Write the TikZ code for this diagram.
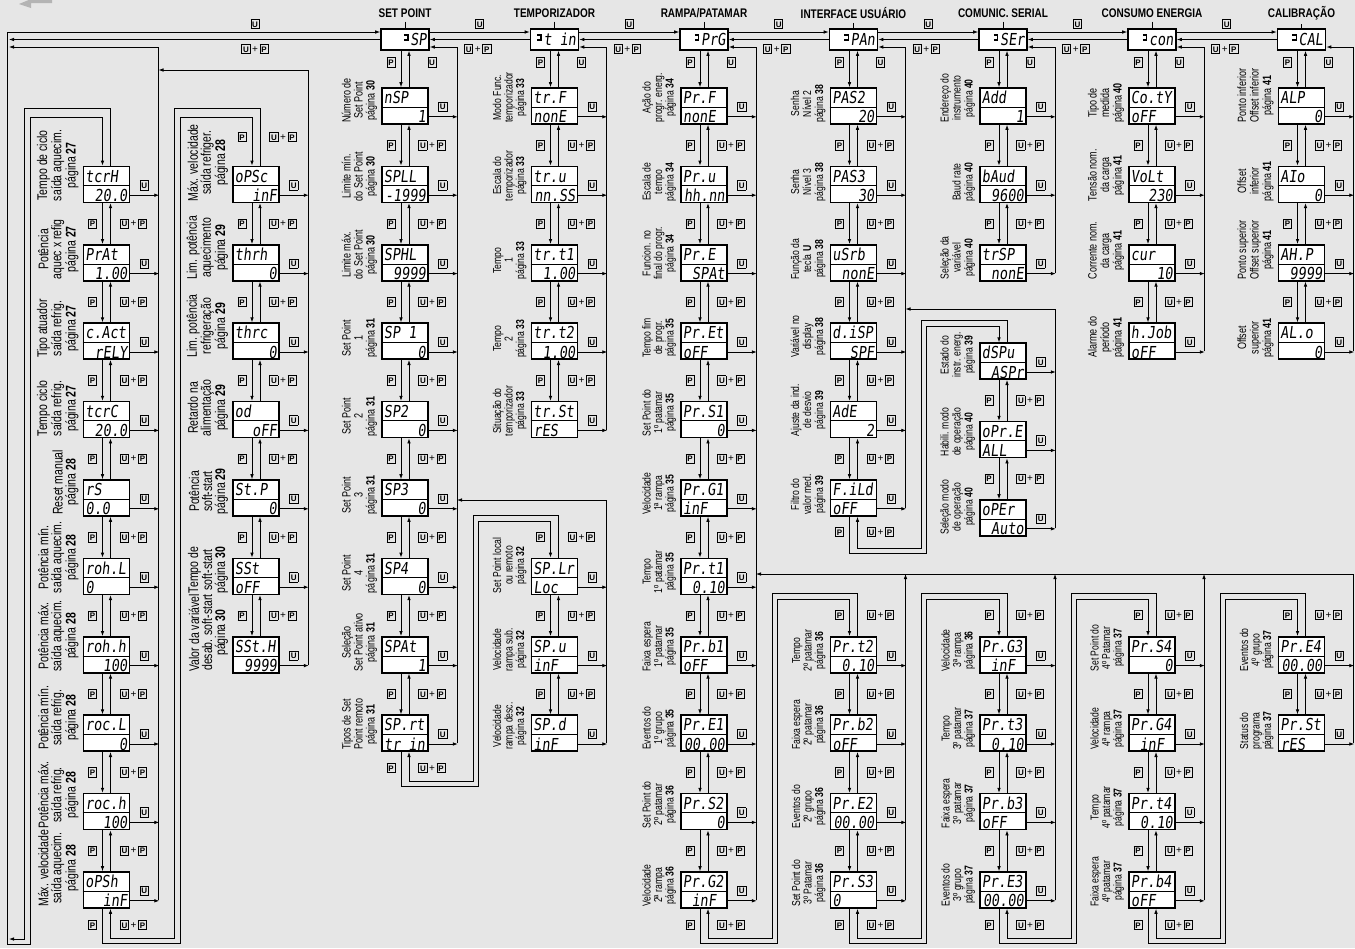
\documentclass[tikz,border=0pt]{standalone}
\usepackage{fontspec}
\setmainfont{Liberation Sans}
\newfontfamily\condf[FakeStretch=0.75]{Liberation Sans}
\newfontfamily\titlef[FakeStretch=0.8]{Liberation Sans}
\newfontfamily\dispf[FakeStretch=0.82,FakeSlant=0.12]{DejaVu Sans Mono}
\usetikzlibrary{arrows.meta,calc}
\definecolor{bgc}{HTML}{E6E6E6}
\definecolor{argray}{HTML}{B4B4B4}

\newcommand\kb[1]{{\setlength\fboxsep{0pt}\setlength\fboxrule{0.8pt}\fbox{\makebox[7.4pt]{\rule[-1.2pt]{0pt}{8.6pt}\fontsize{8}{8}\selectfont\bfseries #1}}}}
\newcommand\kU{\kb{U}}
\newcommand\kP{\kb{P}}
\newcommand\kUP{\kb{U}\hspace{1.6pt}{\fontsize{10}{10}\selectfont +}\hspace{1.6pt}\kb{P}}
\newcommand\hq{\makebox[6.4pt][l]{\rule[5pt]{4.6pt}{1.3pt}\hspace{-1.3pt}\rule[5pt]{1.3pt}{6.3pt}\hspace{-4.6pt}\rule[10pt]{4.6pt}{1.3pt}}}
\def\dsz{11.5}
\def\dld{11.5}

\tikzset{
  ln/.style={line width=0.8pt},
  conn/.style={line width=0.8pt,-{Latex[length=5pt,width=3.6pt]}},
  dispbox/.style={draw,line width=1.6pt,fill=white,minimum width=46pt,minimum height=36pt,inner sep=0pt},
  headbox/.style={draw,line width=1.6pt,fill=white,minimum width=48pt,minimum height=21pt,inner sep=0pt},
  divline/.style={line width=0.9pt},
  disptxt/.style={inner sep=0pt,text height=12pt,text depth=0pt,font=\dispf\fontsize{16.5}{16.5}\selectfont},
  alignL/.style={anchor=west,xshift=-21pt},
  alignR/.style={anchor=east,xshift=21pt},
  alignC/.style={},
  desc/.style={rotate=90,anchor=south west,align=center,inner sep=0pt,font=\condf\fontsize{\dsz}{\dld}\selectfont},
  keylab/.style={inner sep=0pt,font=\fontsize{10}{10}\selectfont},
  titlelab/.style={inner sep=0pt,font=\titlef\bfseries\fontsize{12.5}{12.5}\selectfont},
}

% name, x, row, top text, bottom text, align, description
\newcommand\mkdisp[7]{%
  \pgfmathsetmacro\yc{106+78.4*(#3)}%
  \node[dispbox] (#1) at (#2,\yc) {};
  \draw[divline] ($(#1.north west)+(0,20)$) -- ($(#1.north east)+(0,20)$);
  \node[disptxt,anchor=west] (#1-t) at ($(#1.north west)+(2.5,10.5)$) {#4};
  \node[disptxt,align#6] (#1-b) at ($(#1.south)+(0,-8)$) {#5};
  \node[desc] (#1-d) at ($(#1.south west)+(-4,-2)$) {#7};
  \draw[conn] ($(#1.south east)+(0,-8)$) -- ++(29,0);
  \node[keylab] (#1-u) at ($(#1.south east)+(14,-18)$) {\kU};
}
% upper, lower, right label, fraction
\newcommand\mkvl[4]{%
  \draw[conn] ($(#1.south)+(-4,0)$) -- ($(#2.north)+(-4,0)$);
  \draw[conn] ($(#2.north)+(4,0)$) -- ($(#1.south)+(4,0)$);
  \coordinate (mid) at ($(#1.south)!#4!(#2.north)$);
  \node[keylab] at ([xshift=-14pt]mid) {\kP};
  \node[keylab] at ([xshift=27pt]mid) {#3};
}
% name, x, display, title
\newcommand\mkhead[4]{%
  \node[headbox] (#1) at (#2,39.5) {};
  \node[disptxt,anchor=east] (#1-t) at ($(#1.east)+(-3,0)$) {#3};
  \node[titlelab] (#1-n) at (#2,13) {#4};
  \draw[ln] ($(#1-n.south)+(0,4)$) -- (#1.north);
}
\newcommand\mkhl[2]{%
  \draw[conn] ($(#1.east)+(0,-7.5)$) -- ($(#2.west)+(0,-7.5)$);
  \draw[conn] (#2.west) -- (#1.east);
  \coordinate (mh) at ($(#1.east)!0.5!(#2.west)$);
  \node[keylab] at ([yshift=15.5pt]mh) {\kU};
  \node[keylab] at ($(#1.east)+(48,9.5)$) {\kUP};
}

\begin{document}
\begin{tikzpicture}[x=1pt,y=-1pt]
\useasboundingbox (0,0) rectangle (1355,948);
\fill[bgc] (0,0) rectangle (1355,948);
\fill[argray] (19,4) -- (31,-1) -- (31,0) -- (52,0) -- (52,3) -- (31,3) -- (31,8) -- cycle;

% headers
\mkhead{hSP}{405}{\hq SP}{SET POINT}
\mkhead{hT}{554.5}{\hq t in}{TEMPORIZADOR}
\mkhead{hR}{704}{\hq PrG}{RAMPA/PATAMAR}
\mkhead{hI}{853.5}{\hq PAn}{INTERFACE USUÁRIO}
\mkhead{hS}{1003}{\hq SEr}{COMUNIC. SERIAL}
\mkhead{hC}{1152}{\hq con}{CONSUMO ENERGIA}
\mkhead{hL}{1301.5}{\hq CAL}{CALIBRAÇÃO}

\mkhl{hSP}{hT}
\mkhl{hT}{hR}
\mkhl{hR}{hI}
\mkhl{hI}{hS}
\mkhl{hS}{hC}
\mkhl{hC}{hL}

% left bus and top-left lines
\draw[ln] (7,32) -- (7,944);
\draw[conn] (7,32) -- ($(hSP.west)+(0,-7.5)$);
\draw[conn] (hSP.west) -- (9,39.5);
\node[keylab] at (255,24) {\kU};
\node[keylab] at (255,49) {\kUP};

\def\dsz{14}\def\dld{13}
% column A
\mkdisp{tcrH}{106.5}{1}{tcrH}{20.0}{R}{Tempo de ciclo\\saída aquecim.\\página \textbf{27}}
\mkdisp{PrAt}{106.5}{2}{PrAt}{1.00}{R}{Potência\\aquec x refig\\página \textbf{27}}
\mkdisp{cAct}{106.5}{3}{c.Act}{rELY}{R}{Tipo atuador\\saída refrig.\\página \textbf{27}}
\mkdisp{tcrC}{106.5}{4}{tcrC}{20.0}{R}{Tempo ciclo\\saída refrig.\\página \textbf{27}}
\mkdisp{rS}{106.5}{5}{rS}{0.0}{L}{Reset manual\\página \textbf{28}}
\mkdisp{rohL}{106.5}{6}{roh.L}{0}{L}{Potência mín.\\saída aquecim.\\página \textbf{28}}
\mkdisp{rohh}{106.5}{7}{roh.h}{100}{R}{Potência máx.\\saída aquecim.\\página \textbf{28}}
\mkdisp{rocL}{106.5}{8}{roc.L}{0}{R}{Potência mín.\\saída refrig.\\página \textbf{28}}
\mkdisp{roch}{106.5}{9}{roc.h}{100}{R}{Potência máx.\\saída refrig.\\página \textbf{28}}
\mkdisp{oPSh}{106.5}{10}{oPSh}{inF}{R}{Máx. velocidade\\saída aquecim.\\página \textbf{28}}
\foreach \a/\b in {tcrH/PrAt,PrAt/cAct,cAct/tcrC,tcrC/rS,rS/rohL,rohL/rohh,rohh/rocL,rocL/roch,roch/oPSh}{\mkvl{\a}{\b}{\kUP}{0.5}}
\draw[conn] (158.5,900) |- (9,47);

% column B
\mkdisp{oPSc}{256}{1}{oPSc}{inF}{R}{Máx. velocidade\\saída refriger.\\página \textbf{28}}
\mkdisp{thrh}{256}{2}{thrh}{0}{R}{Lim. potência\\aquecimento\\página \textbf{29}}
\mkdisp{thrc}{256}{3}{thrc}{0}{R}{Lim. potência\\refrigeração\\página \textbf{29}}
\mkdisp{od}{256}{4}{od}{oFF}{R}{Retardo na\\alimentação\\página \textbf{29}}
\mkdisp{StP}{256}{5}{St.P}{0}{R}{Potência\\soft-start\\página \textbf{29}}
\mkdisp{SSt}{256}{6}{SSt}{oFF}{L}{Tempo de\\soft-start\\página \textbf{30}}
\mkdisp{SStH}{256}{7}{SSt.H}{9999}{R}{Valor da variável\\desab. soft-start\\página \textbf{30}}
\foreach \a/\b in {oPSc/thrh,thrh/thrc,thrc/od,od/StP,StP/SSt,SSt/SStH}{\mkvl{\a}{\b}{\kUP}{0.5}}
\draw[conn] (308,664.8) |- (158.5,70);

% column A entry and A->B loop
\draw[conn] (7,944) -- (30,944) -- (30,117) -- (102.5,117) -- ($(tcrH.north)+(-4,0)$);
\draw[conn] ($(tcrH.north)+(4,0)$) -- (110.5,108) -- (24,108) -- (24,939) -- (9,939);
\draw[conn] ($(oPSh.south)+(-4,0)$) -- (102.5,943) -- (180,943) -- (180,117) -- (252,117) -- ($(oPSc.north)+(-4,0)$);
\draw[conn] ($(oPSc.north)+(4,0)$) -- (260,108) -- (174,108) -- (174,938) -- (110.5,938) -- ($(oPSh.south)+(4,0)$);
\node[keylab] at (92.5,925) {\kP};
\node[keylab] at (133.5,925) {\kUP};
\node[keylab] at (242,137) {\kP};
\node[keylab] at (283,137) {\kUP};

% SET POINT
\def\dsz{12}\def\dld{12}
\mkdisp{nSP}{405}{0}{nSP}{1}{R}{Número de\\Set Point\\página \textbf{30}}
\mkdisp{SPLL}{405}{1}{SPLL}{-1999}{R}{Limite mín.\\do Set Point\\página \textbf{30}}
\mkdisp{SPHL}{405}{2}{SPHL}{9999}{R}{Limite máx.\\do Set Point\\página \textbf{30}}
\mkdisp{SPa}{405}{3}{SP 1}{0}{R}{Set Point\\1\\página \textbf{31}}
\mkdisp{SPb}{405}{4}{SP2}{0}{R}{Set Point\\2\\página \textbf{31}}
\mkdisp{SPc}{405}{5}{SP3}{0}{R}{Set Point\\3\\página \textbf{31}}
\mkdisp{SPd4}{405}{6}{SP4}{0}{R}{Set Point\\4\\página \textbf{31}}
\mkdisp{SPAt}{405}{7}{SPAt}{1}{R}{Seleção\\Set Point ativo\\página \textbf{31}}
\mkdisp{SPrt}{405}{8}{SP.rt}{tr in}{L}{Tipos de Set\\Point remoto\\página \textbf{31}}
\mkvl{hSP}{nSP}{\kU}{0.32}
\foreach \a/\b in {nSP/SPLL,SPLL/SPHL,SPHL/SPa,SPa/SPb,SPb/SPc,SPc/SPd4,SPd4/SPAt,SPAt/SPrt}{\mkvl{\a}{\b}{\kUP}{0.5}}
\draw[conn] (457,743.2) |- ($(hSP.east)+(0,7.5)$);
\def\dsz{11.5}\def\dld{11.5}
\mkdisp{SPLr}{554.5}{6}{SP.Lr}{Loc}{L}{Set Point local\\ou remoto\\página \textbf{32}}
\mkdisp{SPu}{554.5}{7}{SP.u}{inF}{L}{Velocidade\\rampa sub.\\página \textbf{32}}
\mkdisp{SPdd}{554.5}{8}{SP.d}{inF}{L}{Velocidade\\rampa desc.\\página \textbf{32}}
\foreach \a/\b in {SPLr/SPu,SPu/SPdd}{\mkvl{\a}{\b}{\kUP}{0.5}}
\draw[conn] (606.5,743.2) |- (457,500);
\draw[conn] ($(SPrt.south)+(-4,0)$) -- (401,786) -- (478,786) -- (478,521) -- (550.5,521) -- ($(SPLr.north)+(-4,0)$);
\draw[conn] ($(SPLr.north)+(4,0)$) -- (558.5,515) -- (473,515) -- (473,781) -- (409,781) -- ($(SPrt.south)+(4,0)$);
\node[keylab] at (391,768) {\kP};
\node[keylab] at (432,768) {\kUP};
\node[keylab] at (540.5,537) {\kP};
\node[keylab] at (581.5,537) {\kUP};

% TEMPORIZADOR
\mkdisp{trF}{554.5}{0}{tr.F}{nonE}{L}{Modo Func.\\temporizador\\página \textbf{33}}
\mkdisp{tru}{554.5}{1}{tr.u}{nn.SS}{R}{Escala do\\temporizador\\página \textbf{33}}
\mkdisp{trtA}{554.5}{2}{tr.t1}{1.00}{R}{Tempo\\1\\página \textbf{33}}
\mkdisp{trtB}{554.5}{3}{tr.t2}{1.00}{R}{Tempo\\2\\página \textbf{33}}
\mkdisp{trSt}{554.5}{4}{tr.St}{rES}{L}{Situação do\\temporizador\\página \textbf{33}}
\mkvl{hT}{trF}{\kU}{0.32}
\foreach \a/\b in {trF/tru,tru/trtA,trtA/trtB,trtB/trSt}{\mkvl{\a}{\b}{\kUP}{0.5}}
\draw[conn] (606.5,429.6) |- ($(hT.east)+(0,7.5)$);

% RAMPA/PATAMAR
\mkdisp{PrF}{704}{0}{Pr.F}{nonE}{L}{Ação do\\progr. energ.\\página \textbf{34}}
\mkdisp{Pru}{704}{1}{Pr.u}{hh.nn}{R}{Escala de\\tempo\\página \textbf{34}}
\mkdisp{PrE}{704}{2}{Pr.E}{SPAt}{R}{Funcion. no\\final do progr.\\página \textbf{34}}
\mkdisp{PrEt}{704}{3}{Pr.Et}{oFF}{L}{Tempo fim\\de progr.\\página \textbf{35}}
\mkdisp{PrSa}{704}{4}{Pr.S1}{0}{R}{Set Point do\\1º patamar\\página \textbf{35}}
\mkdisp{PrGa}{704}{5}{Pr.G1}{inF}{L}{Velocidade\\1ª rampa\\página \textbf{35}}
\mkdisp{Prta}{704}{6}{Pr.t1}{0.10}{R}{Tempo\\1º patamar\\página \textbf{35}}
\mkdisp{Prba}{704}{7}{Pr.b1}{oFF}{L}{Faixa espera\\1º patamar\\página \textbf{35}}
\mkdisp{PrEa}{704}{8}{Pr.E1}{00.00}{R}{Eventos do\\1º grupo\\página \textbf{35}}
\mkdisp{PrSb}{704}{9}{Pr.S2}{0}{R}{Set Point do\\2º patamar\\página \textbf{36}}
\mkdisp{PrGb}{704}{10}{Pr.G2}{inF}{C}{Velocidade\\2ª rampa\\página \textbf{36}}
\mkvl{hR}{PrF}{\kU}{0.32}
\foreach \a/\b in {PrF/Pru,Pru/PrE,PrE/PrEt,PrEt/PrSa,PrSa/PrGa,PrGa/Prta,Prta/Prba,Prba/PrEa,PrEa/PrSb,PrSb/PrGb}{\mkvl{\a}{\b}{\kUP}{0.5}}
\draw[conn] (756,900) |- ($(hR.east)+(0,7.5)$);

\mkdisp{Prtb}{853.5}{7}{Pr.t2}{0.10}{R}{Tempo\\2º patamar\\página \textbf{36}}
\mkdisp{Prbb}{853.5}{8}{Pr.b2}{oFF}{L}{Faixa espera\\2º patamar\\página \textbf{36}}
\mkdisp{PrEb}{853.5}{9}{Pr.E2}{00.00}{R}{Eventos do\\2º grupo\\página \textbf{36}}
\mkdisp{PrSc}{853.5}{10}{Pr.S3}{0}{L}{Set Point do\\3º Patamar\\página \textbf{36}}
\mkdisp{PrGc}{1003}{7}{Pr.G3}{inF}{C}{Velocidade\\3ª rampa\\página \textbf{36}}
\mkdisp{Prtc}{1003}{8}{Pr.t3}{0.10}{R}{Tempo\\3º patamar\\página \textbf{37}}
\mkdisp{Prbc}{1003}{9}{Pr.b3}{oFF}{L}{Faixa espera\\3º patamar\\página \textbf{37}}
\mkdisp{PrEc}{1003}{10}{Pr.E3}{00.00}{R}{Eventos do\\3º grupo\\página \textbf{37}}
\mkdisp{PrSd}{1152}{7}{Pr.S4}{0}{R}{Set Point do\\4º Patamar\\página \textbf{37}}
\mkdisp{PrGd}{1152}{8}{Pr.G4}{inF}{C}{Velocidade\\4ª rampa\\página \textbf{37}}
\mkdisp{Prtd}{1152}{9}{Pr.t4}{0.10}{R}{Tempo\\4º patamar\\página \textbf{37}}
\mkdisp{Prbd}{1152}{10}{Pr.b4}{oFF}{L}{Faixa espera\\4º patamar\\página \textbf{37}}
\mkdisp{PrEd}{1301.5}{7}{Pr.E4}{00.00}{R}{Eventos do\\4º grupo\\página \textbf{37}}
\mkdisp{PrSt}{1301.5}{8}{Pr.St}{rES}{L}{Status do\\programa\\página \textbf{37}}
\foreach \a/\b in {Prtb/Prbb,Prbb/PrEb,PrEb/PrSc,PrGc/Prtc,Prtc/Prbc,Prbc/PrEc,PrSd/PrGd,PrGd/Prtd,Prtd/Prbd,PrEd/PrSt}{\mkvl{\a}{\b}{\kUP}{0.5}}
\draw[conn] (905.5,900) -- (905.5,574);
\draw[conn] (1055,900) -- (1055,574);
\draw[conn] (1204,900) -- (1204,574);
\draw[conn] (1353.5,743.2) |- (756,574);

% program loops
\draw[conn] ($(PrGb.south)+(-4,0)$) -- (700,943) -- (777,943) -- (777,599) -- (849.5,599) -- ($(Prtb.north)+(-4,0)$);
\draw[conn] ($(Prtb.north)+(4,0)$) -- (857.5,593) -- (772,593) -- (772,938) -- (708,938) -- ($(PrGb.south)+(4,0)$);
\draw[conn] ($(PrSc.south)+(-4,0)$) -- (849.5,943) -- (926.5,943) -- (926.5,599) -- (999,599) -- ($(PrGc.north)+(-4,0)$);
\draw[conn] ($(PrGc.north)+(4,0)$) -- (1007,593) -- (921.5,593) -- (921.5,938) -- (857.5,938) -- ($(PrSc.south)+(4,0)$);
\draw[conn] ($(PrEc.south)+(-4,0)$) -- (999,943) -- (1076,943) -- (1076,599) -- (1148,599) -- ($(PrSd.north)+(-4,0)$);
\draw[conn] ($(PrSd.north)+(4,0)$) -- (1156,593) -- (1071,593) -- (1071,938) -- (1007,938) -- ($(PrEc.south)+(4,0)$);
\draw[conn] ($(Prbd.south)+(-4,0)$) -- (1148,943) -- (1225,943) -- (1225,599) -- (1297.5,599) -- ($(PrEd.north)+(-4,0)$);
\draw[conn] ($(PrEd.north)+(4,0)$) -- (1305.5,593) -- (1220,593) -- (1220,938) -- (1156,938) -- ($(Prbd.south)+(4,0)$);
\foreach \xa in {704,853.5,1003,1152}{
  \node[keylab] at (\xa-14,925) {\kP};
  \node[keylab] at (\xa+27,925) {\kUP};
}
\foreach \xb in {853.5,1003,1152,1301.5}{
  \node[keylab] at (\xb-14,615) {\kP};
  \node[keylab] at (\xb+27,615) {\kUP};
}

% INTERFACE
\def\dsz{11.5}\def\dld{12}
\mkdisp{PASb}{853.5}{0}{PAS2}{20}{R}{Senha\\Nível 2\\página \textbf{38}}
\mkdisp{PASc}{853.5}{1}{PAS3}{30}{R}{Senha\\Nível 3\\página \textbf{38}}
\mkdisp{uSrb}{853.5}{2}{uSrb}{nonE}{R}{Função da\\tecla \textbf{U}\\página \textbf{38}}
\mkdisp{diSP}{853.5}{3}{d.iSP}{SPF}{R}{Variável no\\display\\página \textbf{38}}
\mkdisp{AdE}{853.5}{4}{AdE}{2}{R}{Ajuste da ind.\\de desvio\\página \textbf{39}}
\mkdisp{FiLd}{853.5}{5}{F.iLd}{oFF}{L}{Filtro do\\valor med.\\página \textbf{39}}
\mkvl{hI}{PASb}{\kU}{0.32}
\foreach \a/\b in {PASb/PASc,PASc/uSrb,uSrb/diSP,diSP/AdE,AdE/FiLd}{\mkvl{\a}{\b}{\kUP}{0.5}}
\draw[conn] (905.5,508) |- ($(hI.east)+(0,7.5)$);
\mkdisp{dSPu}{1003}{3.2551}{dSPu}{ASPr}{R}{Estado do\\instr. energ.\\página \textbf{39}}
\mkdisp{oPrE}{1003}{4.2551}{oPr.E}{ALL}{L}{Habili. modo\\de operação\\página \textbf{40}}
\mkdisp{oPEr}{1003}{5.2551}{oPEr}{Auto}{R}{Seleção modo\\de operação\\página \textbf{40}}
\foreach \a/\b in {dSPu/oPrE,oPrE/oPEr}{\mkvl{\a}{\b}{\kUP}{0.5}}
\draw[conn] (1055,528) |- (905.5,309);
\draw[conn] ($(FiLd.south)+(-4,0)$) -- (849.5,553) -- (926.5,553) -- (926.5,326) -- (999,326) -- ($(dSPu.north)+(-4,0)$);
\draw[conn] ($(dSPu.north)+(4,0)$) -- (1007,320) -- (921.5,320) -- (921.5,548) -- (857.5,548) -- ($(FiLd.south)+(4,0)$);
\node[keylab] at (839.5,532) {\kP};
\node[keylab] at (880.5,532) {\kUP};

% COMUNIC. SERIAL
\mkdisp{Add}{1003}{0}{Add}{1}{R}{Endereço do\\instrumento\\página \textbf{40}}
\mkdisp{bAud}{1003}{1}{bAud}{9600}{R}{Baud rate\\página \textbf{40}}
\mkdisp{trSP}{1003}{2}{trSP}{nonE}{R}{Seleção da\\variável\\página \textbf{40}}
\mkvl{hS}{Add}{\kU}{0.32}
\foreach \a/\b in {Add/bAud,bAud/trSP}{\mkvl{\a}{\b}{\kUP}{0.5}}
\draw[conn] (1055,272.8) |- ($(hS.east)+(0,7.5)$);

% CONSUMO ENERGIA
\def\dsz{12}\def\dld{12.5}
\mkdisp{CotY}{1152}{0}{Co.tY}{oFF}{L}{Tipo de\\medida\\página \textbf{40}}
\mkdisp{VoLt}{1152}{1}{VoLt}{230}{R}{Tensão nom.\\da carga\\página \textbf{41}}
\mkdisp{cur}{1152}{2}{cur}{10}{R}{Corrente nom.\\da carga\\página \textbf{41}}
\mkdisp{hJob}{1152}{3}{h.Job}{oFF}{L}{Alarme do\\período\\página \textbf{41}}
\mkvl{hC}{CotY}{\kU}{0.32}
\foreach \a/\b in {CotY/VoLt,VoLt/cur,cur/hJob}{\mkvl{\a}{\b}{\kUP}{0.5}}
\draw[conn] (1204,351.2) |- ($(hC.east)+(0,7.5)$);

% CALIBRACAO
\mkdisp{ALP}{1301.5}{0}{ALP}{0}{R}{Ponto inferior\\Offset inferior\\página \textbf{41}}
\mkdisp{AIo}{1301.5}{1}{AIo}{0}{R}{Offset\\inferior\\página \textbf{41}}
\mkdisp{AHP}{1301.5}{2}{AH.P}{9999}{R}{Ponto superior\\Offset superior\\página \textbf{41}}
\mkdisp{ALo}{1301.5}{3}{AL.o}{0}{R}{Offset\\superior\\página \textbf{41}}
\mkvl{hL}{ALP}{\kU}{0.32}
\foreach \a/\b in {ALP/AIo,AIo/AHP,AHP/ALo}{\mkvl{\a}{\b}{\kUP}{0.5}}
\draw[conn] (1353.5,351.2) |- ($(hL.east)+(0,7.5)$);
\end{tikzpicture}
\end{document}
